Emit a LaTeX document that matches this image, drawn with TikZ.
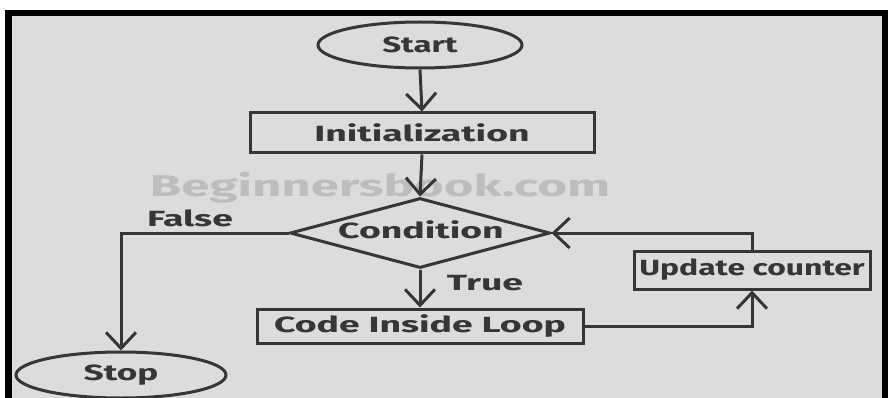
\documentclass[tikz,border=0pt]{standalone}
\usepackage{fontspec}
\usepackage{graphicx}
\setmainfont{Fira Sans}
\usetikzlibrary{shapes.geometric,arrows.meta}
\definecolor{bg}{HTML}{DCDCDC}
\definecolor{ink}{HTML}{363636}
\definecolor{wm}{HTML}{BDBDBD}
\newcommand{\widetxt}[2][1.7]{\scalebox{#1}[1]{#2}}
\tikzset{
  flow/.style={draw=ink, line width=3pt, inner sep=0pt, text=ink, font=\bfseries\fontsize{22}{26}\selectfont},
  term/.style={flow, ellipse},
  proc/.style={flow, rectangle},
  dec/.style={draw=ink, line width=3pt, diamond, inner sep=0pt},
  lbl/.style={text=ink, inner sep=0pt, font=\bfseries\fontsize{22}{26}\selectfont},
  conn/.style={draw=ink, line width=3pt, -{Straight Barb[length=16pt,width=30pt,line width=3pt]}},
}
\begin{document}
\begin{tikzpicture}[x=1pt,y=-1pt]
\useasboundingbox (0,0) rectangle (888,398);
\fill[white] (0,0) rectangle (888,398);
\fill[black] (5,10) rectangle (888,398);
\fill[bg] (12,16) rectangle (882,398);
\node[text=wm, font=\bfseries\fontsize{30}{36}\selectfont] (wmark) at (380,188) {\widetxt{Beginnersbook.com}};
\node[term, minimum width=204pt, minimum height=46pt] (start) at (420,45) {\widetxt[1.5]{Start}};
\node[proc, minimum width=344pt, minimum height=40pt] (init) at (422,133) {\widetxt{Initialization}};
\node[dec, minimum width=260pt, minimum height=70pt] (cond) at (420,233) {};
\node[lbl] (condt) at (421,230) {\widetxt{Condition}};
\node[term, minimum width=210pt, minimum height=46pt] (stop) at (121,375) {\widetxt[1.6]{Stop}};
\node[proc, minimum width=326pt, minimum height=34pt] (code) at (420,326) {\widetxt{Code Inside Loop}};
\node[proc, minimum width=236pt, minimum height=38pt] (upd) at (752,270) {\widetxt[1.45]{Update counter}};
\node[lbl] (false) at (190,218) {\widetxt{False}};
\node[lbl] (true) at (485,283) {\widetxt{True}};
\draw[conn] (start.south) -- (init.north);
\draw[conn] (init.south) -- (cond.north);
\draw[conn] (cond.west) -| (stop.north);
\draw[conn] (cond.south) -- (code.north);
\draw[conn] (code.east) -| (upd.south);
\draw[conn] (upd.north) |- (cond.east);
\end{tikzpicture}
\end{document}
